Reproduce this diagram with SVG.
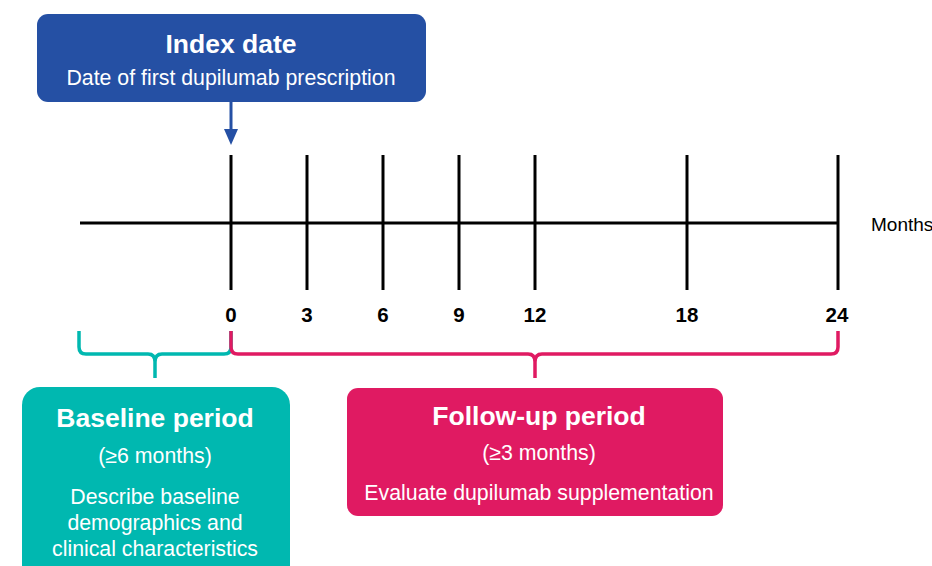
<svg xmlns="http://www.w3.org/2000/svg" width="932" height="566" viewBox="0 0 932 566">
<defs>
<style>
.t{font-family:"Liberation Sans",Arial,sans-serif;fill:#fff;text-anchor:middle}
.b{font-weight:bold;font-size:26.5px}
.s{font-size:21.3px}
.ax{stroke:#000;stroke-width:3;fill:none}
.num{font-family:"Liberation Sans",Arial,sans-serif;font-weight:bold;font-size:20.5px;text-anchor:middle;fill:#000}
</style>
</defs>
<rect width="932" height="566" fill="#fff"/>
<g id="connectors">
<line x1="231" y1="102" x2="231" y2="130" stroke="#2550a4" stroke-width="3"/>
<path d="M224,129 L238,129 L231,145 Z" fill="#2550a4"/>
<line class="ax" x1="80" y1="223" x2="838" y2="223"/>
<g class="ax">
<line x1="231" y1="155" x2="231" y2="290"/>
<line x1="307" y1="155" x2="307" y2="290"/>
<line x1="383" y1="155" x2="383" y2="290"/>
<line x1="459" y1="155" x2="459" y2="290"/>
<line x1="535" y1="155" x2="535" y2="290"/>
<line x1="687" y1="155" x2="687" y2="290"/>
<line x1="838" y1="155" x2="838" y2="290"/>
</g>
<path d="M79,331 L79,347 Q79,354 86,354 L148,354 Q155,354 155,362 L155,378 M155,362 Q155,354 162,354 L224,354 Q231,354 231,347 L231,331" stroke="#00b8b0" stroke-width="3.5" fill="none"/>
<path d="M231,331 L231,347 Q231,354 238,354 L528,354 Q535,354 535,362 L535,378 M535,362 Q535,354 542,354 L831,354 Q838,354 838,347 L838,331" stroke="#e01a62" stroke-width="3.5" fill="none"/>
</g>
<g id="axis-labels">
<text class="num" x="231" y="322">0</text>
<text class="num" x="307" y="322">3</text>
<text class="num" x="383" y="322">6</text>
<text class="num" x="459" y="322">9</text>
<text class="num" x="535" y="322">12</text>
<text class="num" x="687" y="322">18</text>
<text class="num" x="837" y="322">24</text>
<text x="871" y="231" font-family="Liberation Sans,Arial,sans-serif" font-size="19" fill="#000">Months</text>
</g>
<g id="index-date">
<rect x="37" y="14" width="389" height="88" rx="11" fill="#2550a4"/>
<text class="t b" x="231" y="53">Index date</text>
<text class="t s" x="231" y="85">Date of first dupilumab prescription</text>
</g>
<g id="baseline-period">
<rect x="22" y="387" width="268" height="200" rx="18" fill="#00b8b0"/>
<text class="t b" x="155" y="427">Baseline period</text>
<text class="t s" x="155" y="463">(≥6 months)</text>
<text class="t s" x="155" y="504">Describe baseline</text>
<text class="t s" x="155" y="530">demographics and</text>
<text class="t s" x="155" y="556">clinical characteristics</text>
</g>
<g id="follow-up-period">
<rect x="347" y="388" width="376" height="128" rx="11" fill="#e01a62"/>
<text class="t b" x="539" y="425">Follow-up period</text>
<text class="t s" x="539" y="460">(≥3 months)</text>
<text class="t s" x="539" y="500">Evaluate dupilumab supplementation</text>
</g>
</svg>
